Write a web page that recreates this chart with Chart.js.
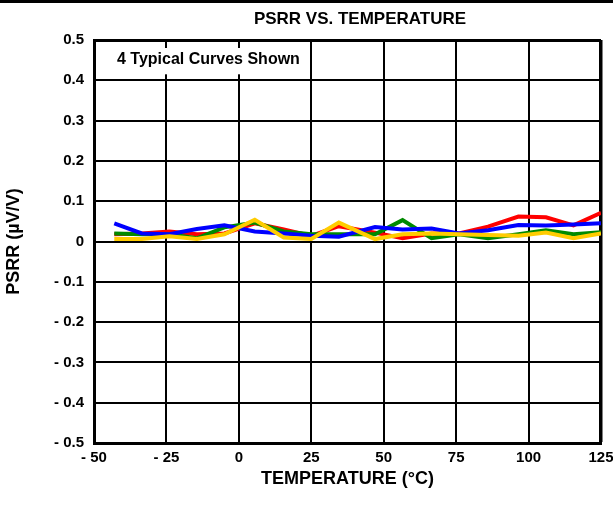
<!DOCTYPE html>
<html>
<head>
<meta charset="utf-8">
<script src="https://cdn.jsdelivr.net/npm/chart.js@4/dist/chart.umd.min.js"></script>
<style>
  html, body { margin: 0; padding: 0; background: #fff; }
  #wrap { width: 613px; height: 506px; position: relative; }
</style>
</head>
<body>
<div id="wrap"><canvas id="c" width="613" height="506"></canvas></div>
<script>
const chartTitle = "PSRR VS. TEMPERATURE";
const noteText = "4 Typical Curves Shown";
const xTitle = "TEMPERATURE (°C)";
const yTitle = "PSRR (µV/V)";

const temps = [-43, -33.5, -24, -14.5, -5, 5.5, 15.5, 25, 34.5, 47, 56.5, 66.5, 76, 86, 96.5, 106, 115.5, 125];
const redVals    = [0.018, 0.020, 0.025, 0.018, 0.020, 0.045, 0.030, 0.014, 0.038, 0.022, 0.008, 0.020, 0.020, 0.037, 0.062, 0.060, 0.040, 0.071];
const greenVals  = [0.020, 0.018, 0.018, 0.008, 0.035, 0.047, 0.025, 0.018, 0.018, 0.018, 0.053, 0.008, 0.018, 0.008, 0.018, 0.028, 0.018, 0.023];
const blueVals   = [0.045, 0.020, 0.018, 0.031, 0.040, 0.025, 0.020, 0.014, 0.012, 0.036, 0.030, 0.032, 0.020, 0.028, 0.041, 0.040, 0.042, 0.045];
const yellowVals = [0.006, 0.006, 0.013, 0.006, 0.018, 0.054, 0.010, 0.006, 0.047, 0.006, 0.018, 0.020, 0.018, 0.016, 0.014, 0.022, 0.008, 0.020];

const xTicks = [-50, -25, 0, 25, 50, 75, 100, 125];
const yTicks = [-0.5, -0.4, -0.3, -0.2, -0.1, 0, 0.1, 0.2, 0.3, 0.4, 0.5];

const FONT = "'Liberation Sans', Arial, Helvetica, sans-serif";

function pts(vals) { return temps.map((t, i) => ({ x: t, y: vals[i] })); }

function fmtSigned(v, digits) {
  const r = Math.round(v * 10) / 10;
  if (Math.abs(r) < 1e-9) return "0";
  const s = Math.abs(r).toFixed(digits);
  return r < 0 ? "- " + s : s;
}

const overlay = {
  id: 'overlay',
  beforeDatasetsDraw(chart) {
    const { ctx, chartArea, scales } = chart;
    const x1 = scales.x.getPixelForValue(25);
    const y2 = scales.y.getPixelForValue(0.4);
    ctx.save();
    ctx.fillStyle = '#fff';
    ctx.fillRect(chartArea.left + 3, chartArea.top + 8, x1 - chartArea.left - 5, y2 - chartArea.top - 14);
    ctx.fillStyle = '#000';
    ctx.font = "bold 16px " + FONT;
    ctx.textAlign = 'left';
    ctx.textBaseline = 'middle';
    ctx.fillText(noteText, 117, 60);
    ctx.restore();
  },
  afterDraw(chart) {
    const { ctx } = chart;
    ctx.save();
    ctx.fillStyle = '#000';
    ctx.fillRect(0, 0, chart.width, 3);
    ctx.font = "bold 17px " + FONT;
    ctx.textAlign = 'center';
    ctx.textBaseline = 'middle';
    ctx.fillText(chartTitle, 360, 19);
    ctx.restore();
  }
};

const mk = (label, vals, color) => ({
  label, data: pts(vals), borderColor: color, backgroundColor: color,
  borderWidth: 4, pointRadius: 0, tension: 0, fill: false
});

new Chart(document.getElementById('c'), {
  type: 'line',
  data: {
    datasets: [
      mk('Yellow', yellowVals, '#ffcc00'),
      mk('Blue', blueVals, '#0000ff'),
      mk('Green', greenVals, '#008a00'),
      mk('Red', redVals, '#ff0000')
    ]
  },
  options: {
    responsive: false,
    animation: false,
    layout: { padding: { left: 0, right: 0, top: 40, bottom: 0 } },
    plugins: { legend: { display: false }, title: { display: false }, tooltip: { enabled: false } },
    scales: {
      x: {
        type: 'linear', min: -50, max: 125,
        afterBuildTicks(s) { s.ticks = xTicks.map(v => ({ value: v })); },
        afterFit(s) { s.height = 63; s.paddingLeft = 0; s.paddingRight = 12; },
        grid: { color: '#000', lineWidth: c => (c.tick && c.tick.value === 125 ? 3.5 : 2), drawTicks: false },
        border: { color: '#000', width: 3 },
        ticks: { color: '#000', padding: 6, font: { family: FONT, size: 15, weight: 'bold' },
                 maxRotation: 0, autoSkip: false,
                 callback: v => (v < 0 ? "- " + Math.abs(v) : String(v)) },
        title: { display: true, text: xTitle, color: '#000', padding: { top: 4, bottom: 16 },
                 font: { family: FONT, size: 18, weight: 'bold' } }
      },
      y: {
        type: 'linear', min: -0.5, max: 0.5,
        afterBuildTicks(s) { s.ticks = yTicks.map(v => ({ value: v })); },
        afterFit(s) { s.width = 94; s.paddingTop = 0; s.paddingBottom = 0; },
        grid: { color: '#000', lineWidth: c => (c.tick && Math.abs(c.tick.value - 0.5) < 1e-9 ? 3 : 2), drawTicks: false },
        border: { color: '#000', width: 3 },
        ticks: { color: '#000', padding: 10, font: { family: FONT, size: 15, weight: 'bold' },
                 autoSkip: false,
                 callback: v => fmtSigned(v, 1) },
        title: { display: true, text: yTitle, color: '#000', padding: { top: 3, bottom: 0 },
                 font: { family: FONT, size: 18, weight: 'bold' } }
      }
    }
  },
  plugins: [overlay]
});
</script>
</body>
</html>
